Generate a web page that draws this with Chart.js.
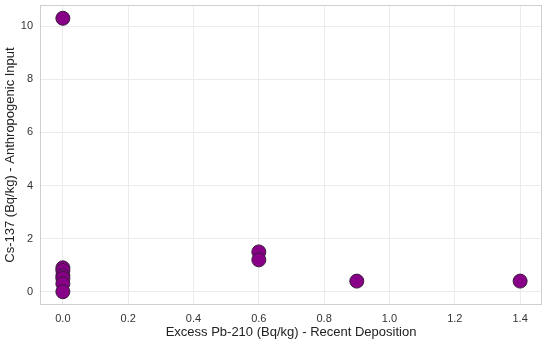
<!DOCTYPE html>
<html>
<head>
<meta charset="utf-8">
<script src="https://cdn.jsdelivr.net/npm/chart.js@4"></script>
<style>
  html, body { margin: 0; padding: 0; background: #fff; overflow: hidden; }
  #wrap { width: 550px; height: 347px; margin-top: -3px; }
</style>
</head>
<body>
<div id="wrap"><canvas id="scatterChart"></canvas></div>
<script>
const excessPb210 = [0.0, 0.0, 0.0, 0.0, 0.0, 0.0, 0.0, 0.6, 0.6, 0.9, 1.4];
const cs137 = [10.3, 0.9, 0.8, 0.6, 0.5, 0.3, 0.0, 1.5, 1.2, 0.4, 0.4];
const xTicks = [0.0, 0.2, 0.4, 0.6, 0.8, 1.0, 1.2, 1.4];
const yTicks = [0, 2, 4, 6, 8, 10];

const frameBorder = {
  id: 'frameBorder',
  afterDraw(chart) {
    const a = chart.chartArea;
    const ctx = chart.ctx;
    ctx.save();
    ctx.strokeStyle = '#cfcfcf';
    ctx.lineWidth = 1;
    ctx.strokeRect(a.left + 0.5, a.top + 0.5, a.right - a.left - 1, a.bottom - a.top - 1);
    ctx.restore();
  }
};

const points = excessPb210.map((x, i) => ({ x, y: cs137[i] }));
const font = 'Liberation Sans, Arial, sans-serif';

new Chart(document.getElementById('scatterChart').getContext('2d'), {
  type: 'scatter',
  data: {
    datasets: [{
      data: points,
      backgroundColor: '#880088',
      borderColor: '#3a1a3a',
      borderWidth: 1,
      pointRadius: 7,
      pointHoverRadius: 7
    }]
  },
  options: {
    responsive: true,
    maintainAspectRatio: false,
    animation: false,
    layout: { padding: { top: 2, right: 5, left: 3, bottom: 4 } },
    scales: {
      x: {
        type: 'linear',
        min: -0.07,
        max: 1.467,
        afterBuildTicks: axis => { axis.ticks = xTicks.map(v => ({ value: v })); },
        afterFit: axis => { axis.height = 35; axis.paddingLeft = 0; axis.paddingRight = 0; },
        grid: { color: '#ebebeb', drawTicks: false },
        border: { display: false },
        ticks: {
          color: '#333',
          font: { family: font, size: 11 },
          padding: 7,
          callback: v => v.toFixed(1)
        },
        title: {
          display: true,
          text: 'Excess Pb-210 (Bq/kg) - Recent Deposition',
          color: '#222',
          font: { family: font, size: 13 },
          padding: { top: 0, bottom: 0 }
        }
      },
      y: {
        type: 'linear',
        min: -0.5,
        max: 10.8,
        afterBuildTicks: axis => { axis.ticks = yTicks.map(v => ({ value: v })); },
        afterFit: axis => { axis.width = 37; axis.paddingTop = 0; axis.paddingBottom = 0; },
        grid: { color: '#ebebeb', drawTicks: false },
        border: { display: false },
        ticks: {
          color: '#333',
          font: { family: font, size: 11 },
          padding: 7
        },
        title: {
          display: true,
          text: 'Cs-137 (Bq/kg) - Anthropogenic Input',
          color: '#222',
          font: { family: font, size: 13 },
          padding: { top: 0, bottom: 0 }
        }
      }
    },
    plugins: {
      legend: { display: false },
      tooltip: { enabled: false }
    }
  },
  plugins: [frameBorder]
});
</script>
</body>
</html>
